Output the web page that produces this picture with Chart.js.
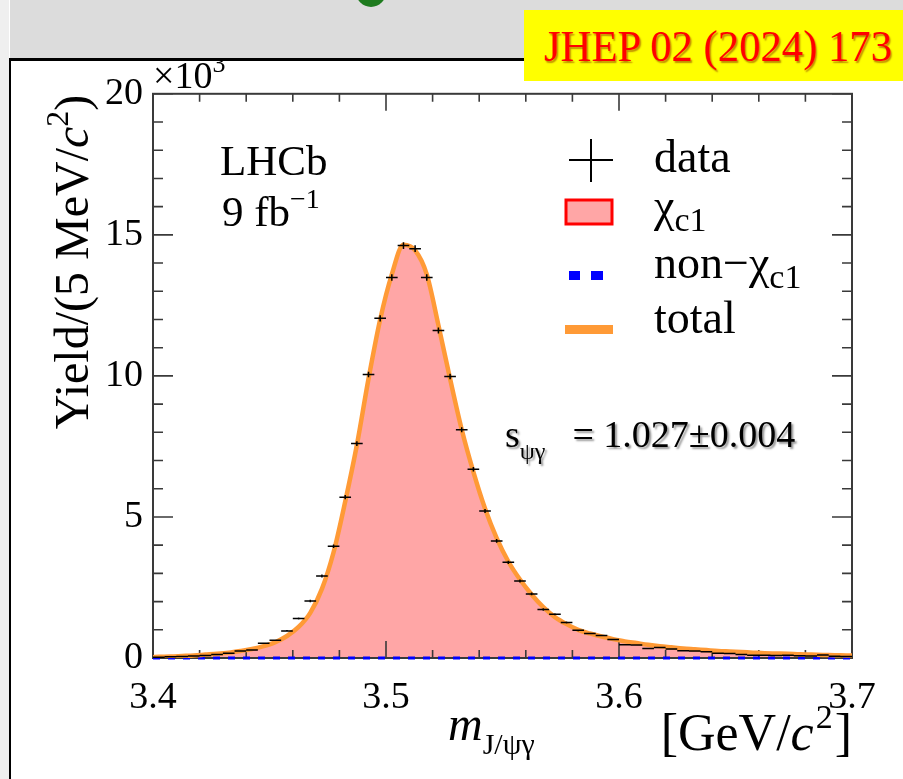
<!DOCTYPE html>
<html>
<head>
<meta charset="utf-8">
<script src="https://cdn.jsdelivr.net/npm/chart.js@4.4.1/dist/chart.umd.min.js"></script>
<style>
  html, body { margin: 0; padding: 0; background: #fff; }
  body { width: 903px; height: 779px; position: relative; overflow: hidden; }
  #strip { position: absolute; left: 0; top: 0; width: 9px; height: 779px; background: #efefef; }
  #band { position: absolute; left: 10px; top: 0; width: 893px; height: 58px; background: #dcdcdc; }
  #dot { position: absolute; left: 356px; top: -23px; width: 30px; height: 30px; border-radius: 50%; background: #1e7b1e; }
  #rule { position: absolute; left: 9px; top: 58px; width: 894px; height: 3px; background: #000; }
  #vrule { position: absolute; left: 9px; top: 58px; width: 2px; height: 721px; background: #000; }
  #badge { position: absolute; left: 524px; top: 10px; width: 379px; height: 71px; background: #ffff00; }
  #badgeText { position: absolute; left: 544px; top: 24px; line-height: 45px; font-size: 45px;
    font-family: "Liberation Serif", serif; color: #ff0000; white-space: nowrap; transform-origin: 0 0;
    text-shadow: 1.5px 1.5px 1.5px rgba(110, 0, 0, 0.45); }
  #wrap { position: absolute; left: 11px; top: 61px; width: 892px; height: 718px; }
</style>
</head>
<body>
<div id="strip"></div>
<div id="band"></div>
<div id="dot"></div>
<div id="rule"></div>
<div id="vrule"></div>
<div id="wrap"><canvas id="chart" width="892" height="718"></canvas></div>
<div id="badge"></div>
<div id="badgeText">JHEP 02 (2024) 173</div>
<script>
// m(J/psi gamma) bin centres, 5 MeV bins [GeV]
const massBins = [
  3.4025, 3.4075, 3.4125, 3.4175, 3.4225, 3.4275, 3.4325, 3.4375, 3.4425, 3.4475,
  3.4525, 3.4575, 3.4625, 3.4675, 3.4725, 3.4775, 3.4825, 3.4875, 3.4925, 3.4975,
  3.5025, 3.5075, 3.5125, 3.5175, 3.5225, 3.5275, 3.5325, 3.5375, 3.5425, 3.5475,
  3.5525, 3.5575, 3.5625, 3.5675, 3.5725, 3.5775, 3.5825, 3.5875, 3.5925, 3.5975,
  3.6025, 3.6075, 3.6125, 3.6175, 3.6225, 3.6275, 3.6325, 3.6375, 3.6425, 3.6475,
  3.6525, 3.6575, 3.6625, 3.6675, 3.6725, 3.6775, 3.6825, 3.6875, 3.6925, 3.6975
];
const BIN_HALF = 0.0025;

// data yield per bin (x10^3) and its uncertainty
const dataYield = [
  0.03, 0.04, 0.05, 0.07, 0.09, 0.12, 0.17, 0.25, 0.28, 0.52,
  0.63, 0.96, 1.40, 2.02, 2.91, 3.96, 5.70, 7.60, 10.05, 12.04,
  13.49, 14.62, 14.51, 13.49, 11.61, 9.98, 8.09, 6.69, 5.21, 4.15,
  3.39, 2.73, 2.27, 1.72, 1.55, 1.26, 0.98, 0.87, 0.80, 0.66,
  0.47, 0.46, 0.34, 0.37, 0.32, 0.26, 0.25, 0.22, 0.17, 0.16,
  0.12, 0.10, 0.10, 0.09, 0.10, 0.08, 0.07, 0.11, 0.06, 0.05
];
const dataErr = [
  0.006, 0.006, 0.007, 0.008, 0.009, 0.011, 0.013, 0.016, 0.017, 0.023,
  0.025, 0.031, 0.037, 0.045, 0.054, 0.063, 0.075, 0.087, 0.100, 0.110,
  0.116, 0.121, 0.120, 0.116, 0.108, 0.100, 0.090, 0.082, 0.072, 0.064,
  0.058, 0.052, 0.048, 0.041, 0.039, 0.035, 0.031, 0.029, 0.028, 0.026,
  0.022, 0.021, 0.018, 0.019, 0.018, 0.016, 0.016, 0.015, 0.013, 0.013,
  0.011, 0.010, 0.010, 0.009, 0.010, 0.009, 0.008, 0.010, 0.008, 0.007
];

// fit model sampled along the mass range (x10^3)
const fitMass = [
  3.4000,
  3.4025, 3.4075, 3.4125, 3.4175, 3.4225, 3.4275, 3.4325, 3.4375, 3.4425, 3.4475,
  3.4525, 3.4575, 3.4625, 3.4675, 3.4725, 3.4775, 3.4825, 3.4875, 3.4925, 3.4975,
  3.5025, 3.5075, 3.5125, 3.5175, 3.5225, 3.5275, 3.5325, 3.5375, 3.5425, 3.5475,
  3.5525, 3.5575, 3.5625, 3.5675, 3.5725, 3.5775, 3.5825, 3.5875, 3.5925, 3.5975,
  3.6025, 3.6075, 3.6125, 3.6175, 3.6225, 3.6275, 3.6325, 3.6375, 3.6425, 3.6475,
  3.6525, 3.6575, 3.6625, 3.6675, 3.6725, 3.6775, 3.6825, 3.6875, 3.6925, 3.6975,
  3.7000
];
const fitTotal = [
  0.03,
  0.04, 0.05, 0.07, 0.09, 0.12, 0.15, 0.19, 0.25, 0.32, 0.42,
  0.56, 0.78, 1.10, 1.60, 2.45, 3.75, 5.55, 7.55, 9.90, 12.00,
  13.60, 14.65, 14.45, 13.60, 11.80, 9.90, 8.10, 6.60, 5.30, 4.25,
  3.42, 2.78, 2.25, 1.80, 1.45, 1.20, 1.00, 0.87, 0.76, 0.67,
  0.59, 0.53, 0.47, 0.42, 0.38, 0.34, 0.31, 0.28, 0.25, 0.23,
  0.21, 0.19, 0.17, 0.16, 0.15, 0.13, 0.12, 0.11, 0.10, 0.09,
  0.085
];
// the non-chi_c1 component is compatible with zero everywhere,
// so the chi_c1 component coincides with the total
const fitChic1 = fitTotal;
const nonChicMass = [3.40, 3.45, 3.50, 3.55, 3.60, 3.65, 3.70];
const nonChicYield = [0, 0, 0, 0, 0, 0, 0];

const X_MIN = 3.4, X_MAX = 3.7, X_MAJOR = 0.1, X_MINOR = 0.02;
const Y_MIN = 0, Y_MAX = 20, Y_MAJOR = 5, Y_MINOR = 1;

const ORANGE = '#ff9a36';
const PINK = '#ffa6a6';
const FAMILY = '"Liberation Serif", "Times New Roman", serif';
const serif = (px, style = 'normal') => `${style} ${px}px ${FAMILY}`;

const pts = (xs, ys) => xs.map((x, i) => ({ x, y: ys[i] }));

function drawRich(ctx, x, y, parts, align = 'left') {
  let w = 0;
  parts.forEach(p => { ctx.font = p.font; w += ctx.measureText(p.text).width + (p.gap || 0); });
  let cx = align === 'right' ? x - w : align === 'center' ? x - w / 2 : x;
  ctx.textAlign = 'left';
  ctx.textBaseline = 'alphabetic';
  parts.forEach(p => {
    ctx.font = p.font;
    ctx.fillText(p.text, cx, y + (p.dy || 0));
    cx += ctx.measureText(p.text).width + (p.gap || 0);
  });
}

// frame and inward ROOT-style ticks on all four sides
function drawFrame(chart) {
  const { ctx, chartArea: a, scales: { x, y } } = chart;
  ctx.save();
  ctx.strokeStyle = '#3a3a3a';
  ctx.lineWidth = 2;
  ctx.strokeRect(a.left, a.top, a.right - a.left, a.bottom - a.top);
  ctx.lineWidth = 1.6;
  ctx.beginPath();
  const ny = Math.round((Y_MAX - Y_MIN) / Y_MINOR);
  for (let k = 0; k <= ny; k++) {
    const py = y.getPixelForValue(Y_MIN + k * Y_MINOR);
    const len = k % Math.round(Y_MAJOR / Y_MINOR) === 0 ? 20 : 10;
    ctx.moveTo(a.left, py); ctx.lineTo(a.left + len, py);
    ctx.moveTo(a.right, py); ctx.lineTo(a.right - len, py);
  }
  const nx = Math.round((X_MAX - X_MIN) / X_MINOR);
  for (let k = 0; k <= nx; k++) {
    const px = x.getPixelForValue(X_MIN + k * X_MINOR);
    const len = k % Math.round(X_MAJOR / X_MINOR) === 0 ? 17 : 8;
    ctx.moveTo(px, a.bottom); ctx.lineTo(px, a.bottom - len);
    ctx.moveTo(px, a.top); ctx.lineTo(px, a.top + len);
  }
  ctx.stroke();
  ctx.restore();
}

function drawErrorBars(chart) {
  const { ctx, scales: { x, y } } = chart;
  const meta = chart.getDatasetMeta(0);
  ctx.save();
  ctx.strokeStyle = '#000';
  ctx.lineWidth = 1.5;
  ctx.beginPath();
  meta.data.forEach((pt, i) => {
    ctx.moveTo(x.getPixelForValue(massBins[i] - BIN_HALF), pt.y);
    ctx.lineTo(x.getPixelForValue(massBins[i] + BIN_HALF), pt.y);
    ctx.moveTo(pt.x, y.getPixelForValue(dataYield[i] + dataErr[i]));
    ctx.lineTo(pt.x, y.getPixelForValue(dataYield[i] - dataErr[i]));
  });
  ctx.stroke();
  ctx.restore();
}

function drawLegend(ctx) {
  ctx.save();
  ctx.strokeStyle = '#000';
  ctx.lineWidth = 2;
  ctx.beginPath();
  ctx.moveTo(558, 99); ctx.lineTo(602, 99);
  ctx.moveTo(580, 78); ctx.lineTo(580, 121);
  ctx.stroke();

  ctx.fillStyle = PINK;
  ctx.fillRect(555, 139, 46, 24);
  ctx.strokeStyle = '#ff0000';
  ctx.lineWidth = 3;
  ctx.strokeRect(555, 139, 46, 24);

  ctx.fillStyle = '#0000ff';
  ctx.fillRect(558, 210, 11, 9);
  ctx.fillRect(580, 210, 12, 9);

  ctx.fillStyle = ORANGE;
  ctx.fillRect(554, 264, 48, 9);

  ctx.fillStyle = '#000';
  drawRich(ctx, 643, 111, [{ text: 'data', font: serif(46) }]);
  drawRich(ctx, 643, 160, [{ text: 'χ', font: serif(46) }, { text: 'c1', font: serif(34), dy: 10 }]);
  drawRich(ctx, 643, 217, [{ text: 'non−χ', font: serif(46) }, { text: 'c1', font: serif(34), dy: 10 }]);
  drawRich(ctx, 643, 272, [{ text: 'total', font: serif(46) }]);
  ctx.restore();
}

function drawTexts(ctx) {
  ctx.save();
  ctx.fillStyle = '#000';
  // multiplier above the y axis, its exponent runs into the frame above
  drawRich(ctx, 142, 27, [{ text: '×10', font: serif(38) }, { text: '3', font: serif(26), dy: -16 }]);

  // y title
  ctx.save();
  ctx.translate(77, 201);
  ctx.rotate(-Math.PI / 2);
  drawRich(ctx, 0, 0, [
    { text: 'Yield/(5 MeV/', font: serif(48) },
    { text: 'c', font: serif(48, 'italic') },
    { text: '2', font: serif(32), dy: -20 },
    { text: ')', font: serif(48) }
  ], 'center');
  ctx.restore();

  // x title
  drawRich(ctx, 437, 679, [
    { text: 'm', font: serif(48, 'italic') },
    { text: 'J/ψγ', font: serif(30), dy: 14 }
  ]);
  drawRich(ctx, 841, 689, [
    { text: '[GeV/', font: serif(52) },
    { text: 'c', font: serif(52, 'italic'), gap: 2 },
    { text: '2', font: serif(34), dy: -22, gap: 2 },
    { text: ']', font: serif(52) }
  ], 'right');

  // experiment label
  drawRich(ctx, 209, 114, [{ text: 'LHCb', font: serif(43) }]);
  drawRich(ctx, 211, 165, [{ text: '9 fb', font: serif(43) }, { text: '−1', font: serif(28), dy: -18 }]);

  // scale factor result
  ctx.shadowColor = 'rgba(0, 0, 0, 0.4)';
  ctx.shadowOffsetX = 2;
  ctx.shadowOffsetY = 2;
  ctx.shadowBlur = 2;
  drawRich(ctx, 494, 386, [
    { text: 's', font: serif(38) },
    { text: 'ψγ', font: serif(24), dy: 12, gap: 27 },
    { text: '= 1.027±0.004', font: serif(38) }
  ]);
  ctx.restore();
}

const rootStyle = {
  id: 'rootStyle',
  afterDatasetDraw(chart, args) {
    // frame goes over the chi_c1 fill but under the curves
    if (args.index === 3) drawFrame(chart);
  },
  afterDatasetsDraw(chart) {
    drawErrorBars(chart);
  },
  afterDraw(chart) {
    drawLegend(chart.ctx);
    drawTexts(chart.ctx);
  }
};

new Chart(document.getElementById('chart'), {
  type: 'line',
  data: {
    datasets: [
      {
        label: 'data',
        data: pts(massBins, dataYield),
        showLine: false,
        pointRadius: 0,
        borderColor: '#000'
      },
      {
        label: 'total',
        data: pts(fitMass, fitTotal),
        borderColor: ORANGE,
        borderWidth: 4.5,
        pointRadius: 0,
        cubicInterpolationMode: 'monotone',
        fill: false
      },
      {
        label: 'non-χc1',
        data: pts(nonChicMass, nonChicYield),
        borderColor: '#0000ff',
        borderWidth: 3,
        borderDash: [7, 8],
        pointRadius: 0,
        fill: false,
        clip: false
      },
      {
        label: 'χc1',
        data: pts(fitMass, fitChic1),
        borderColor: 'transparent',
        borderWidth: 0,
        backgroundColor: PINK,
        pointRadius: 0,
        cubicInterpolationMode: 'monotone',
        fill: 'origin'
      }
    ]
  },
  options: {
    responsive: false,
    animation: false,
    events: [],
    layout: { padding: { top: 32, right: 51, left: 0, bottom: 0 } },
    plugins: { legend: { display: false }, tooltip: { enabled: false } },
    scales: {
      x: {
        type: 'linear',
        min: X_MIN,
        max: X_MAX,
        grid: { display: false, drawTicks: false },
        border: { display: false },
        ticks: {
          stepSize: X_MAJOR,
          maxRotation: 0,
          autoSkip: false,
          padding: 17,
          color: '#000',
          font: { family: FAMILY, size: 38 }
        },
        afterFit(scale) { scale.height = 121; }
      },
      y: {
        type: 'linear',
        min: Y_MIN,
        max: Y_MAX,
        grid: { display: false, drawTicks: false },
        border: { display: false },
        ticks: {
          stepSize: Y_MAJOR,
          padding: 10,
          color: '#000',
          font: { family: FAMILY, size: 38 }
        },
        afterFit(scale) { scale.width = 142; }
      }
    }
  },
  plugins: [rootStyle]
});

// squeeze the journal reference to the width of the original badge
const badge = document.getElementById('badgeText');
badge.style.transform = `scaleX(${348 / badge.getBoundingClientRect().width})`;
</script>
</body>
</html>
